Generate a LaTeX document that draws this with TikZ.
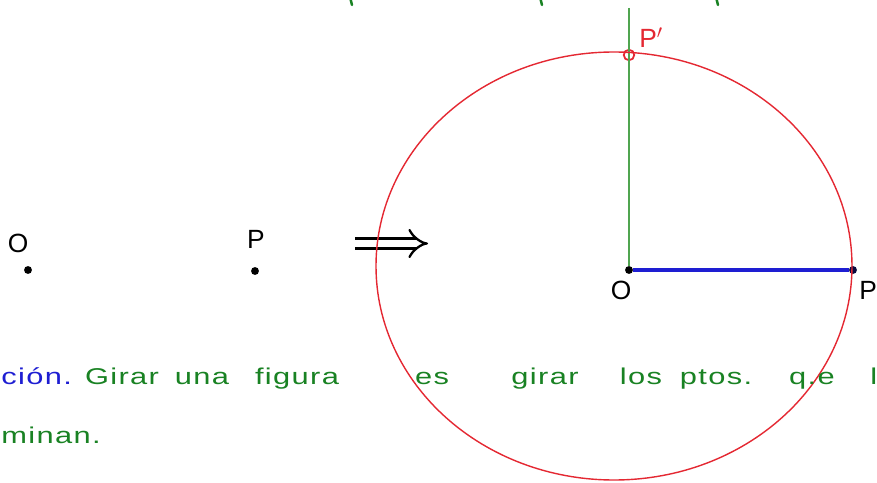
\documentclass[tikz,border=0pt]{standalone}
\usepackage{fontspec}
\newfontfamily\hand[FakeStretch=1.35,LetterSpace=6]{Liberation Sans}
\newfontfamily\handlbl{Liberation Sans}
\usepackage{tikz}
\usetikzlibrary{arrows.meta}
\definecolor{penred}{RGB}{228,40,50}
\definecolor{pengreen}{RGB}{25,130,35}
\definecolor{penblue}{RGB}{30,30,210}
\definecolor{linegreen}{RGB}{80,165,80}
\tikzset{
  word/.style={font=\hand\fontsize{13}{15}\selectfont, text=pengreen, anchor=base, inner sep=0pt},
  ptlbl/.style={font=\handlbl\fontsize{15}{17}\selectfont, inner sep=0pt},
  ptdot/.style={circle, fill=black, inner sep=0pt, minimum size=4.5pt}
}

\begin{document}
\begin{tikzpicture}[x=0.02cm, y=-0.02cm]
        \useasboundingbox (0,0) rectangle (877,483);
        \clip (0,0) rectangle (877,483);

        % Cut-off line above
        \foreach \xx in {352,542,718}
            \draw[pengreen, line width=1.4pt, line cap=round] (\xx-2,-3) -- (\xx,5);

        % Points before the turn
        \node[ptdot] (o1) at (28,270) {};
        \node[ptlbl] (o1lbl) at (18,243) {O};
        \node[ptdot] (p1) at (255,271) {};
        \node[ptlbl] (p1lbl) at (256,239) {P};

        % Implies arrow
        \coordinate (arrA) at (355,243.5);
        \coordinate (arrB) at (428,243.5);
        \draw[line width=1.3pt, double distance=4.5pt, -{Implies}] (arrA) -- (arrB);

        % Turned picture
        \node[ptdot] (o2) at (629,270) {};
        \node[ptdot, fill=black!70!penblue] (p2) at (853,270) {};
        \node[circle, draw=penred, line width=1pt, inner sep=0pt, minimum size=6pt] (p3) at (629,55) {};
        \coordinate (gtop) at (629,8);
        \draw[linegreen, line width=0.9pt] (gtop) -- (o2);
        \draw[penblue, line width=1.8pt] (o2) -- (p2);
        \draw[penred, line width=0.8pt] (614,266) ellipse (238 and 214);
        \node[ptlbl] (o2lbl) at (621,290) {O};
        \node[ptlbl, anchor=west] (p2lbl) at (859,290) {P};
        \node[ptlbl, text=penred, anchor=west] (p3lbl) at (639,38) {P$'$};

        % Definition text
        \node[word, text=penblue, anchor=base west] (w0) at (1,384) {ción.};
        \node[word] (w1) at (122,384) {Girar};
        \node[word] (w2) at (202,384) {una};
        \node[word] (w3) at (297,384) {figura};
        \node[word] (w4) at (432,384) {es};
        \node[word] (w5) at (545,384) {girar};
        \node[word] (w6) at (641,384) {los};
        \node[word] (w7) at (716,384) {ptos.};
        \node[word] (w8) at (812,384) {q.e};
        \node[word, anchor=base west] (w9) at (870,384) {l};
        \node[word, anchor=base west] (w10) at (1,443) {minan.};
\end{tikzpicture}
\end{document}
